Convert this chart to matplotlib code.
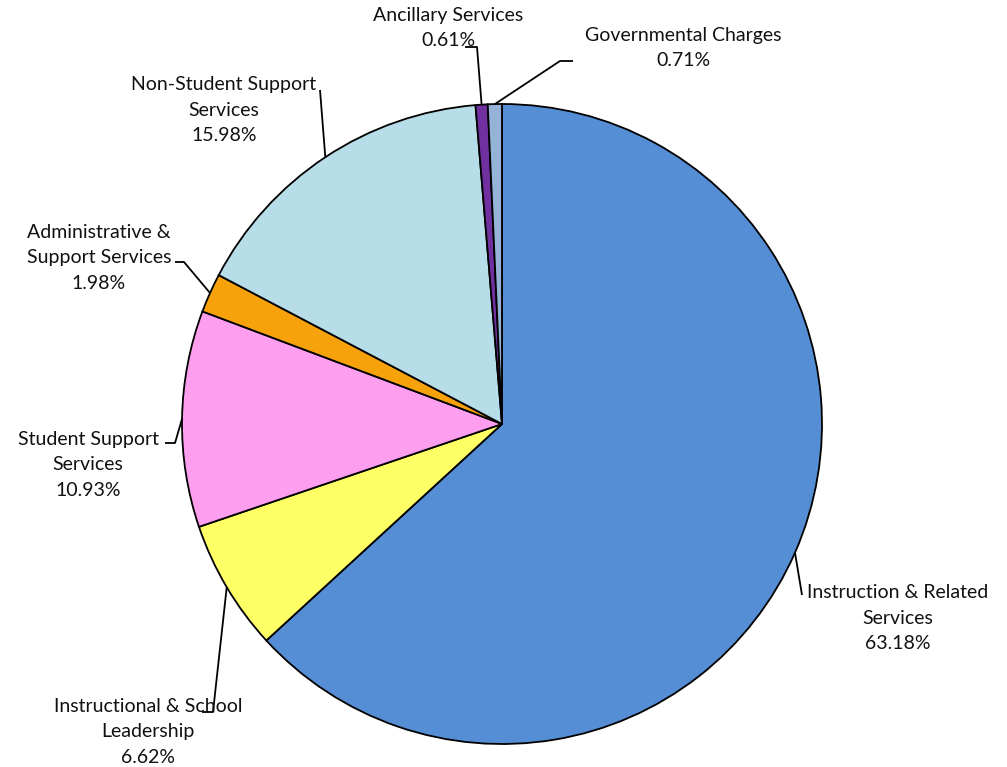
import matplotlib.pyplot as plt
import numpy as np

# expense breakdown
categories = ["Instruction & Related\nServices",
              "Instructional & School\nLeadership",
              "Student Support\nServices",
              "Administrative &\nSupport Services",
              "Non-Student Support\nServices",
              "Ancillary Services",
              "Governmental Charges"]
percents = [63.18, 6.62, 10.93, 1.98, 15.98, 0.61, 0.71]
colors = ["#558ED5", "#FFFF66", "#FD9FEE", "#F7A10B", "#B7DDE8", "#7030A0", "#95B3D7"]

W, H = 1007, 767
cx, cy, R = 502, 424, 320   # pie centre / radius in pixels (y down)

# label layout: text centre, elbow point, end of horizontal stub (pixels, y down)
text_pos = [(898, 618), (148, 732), (88, 465), (99, 258), (224, 110), (448, 28), (683, 48)]
elbows = [(802, 595), (213, 712), (175, 443), (184, 262), (320, 90), (477, 47), (560, 61)]
stub_end = [802, 202, 165, 175, 320, 465, 573]


def Y(py):
    return H - py


plt.rcParams['font.family'] = ['Lato', 'DejaVu Sans']
fig = plt.figure(figsize=(W / 100, H / 100), dpi=100)
ax = fig.add_axes([0, 0, 1, 1])

wedges, _ = ax.pie(percents, colors=colors, startangle=90, counterclock=False,
                   center=(cx, Y(cy)), radius=R,
                   wedgeprops=dict(edgecolor='black', linewidth=1.3))

total = sum(percents)
cum = 0
for i, p in enumerate(percents):
    mid = 90 - (cum + p / 2) / total * 360
    cum += p
    ax_x = cx + R * np.cos(np.radians(mid))
    ax_y = Y(cy) + R * np.sin(np.radians(mid))
    ex, ey = elbows[i]
    ax.plot([ax_x, ex, stub_end[i]], [ax_y, Y(ey), Y(ey)], color='black', lw=1.3,
            solid_capstyle='butt')
    tx, ty = text_pos[i]
    ax.text(tx, Y(ty), f"{categories[i]}\n{p:.2f}%", ha='center', va='center',
            fontsize=14, linespacing=1.62, color='#111111')

ax.set_xlim(0, W)
ax.set_ylim(0, H)
ax.set_aspect('equal')
ax.axis('off')

fig.savefig("out.png", dpi=100)
